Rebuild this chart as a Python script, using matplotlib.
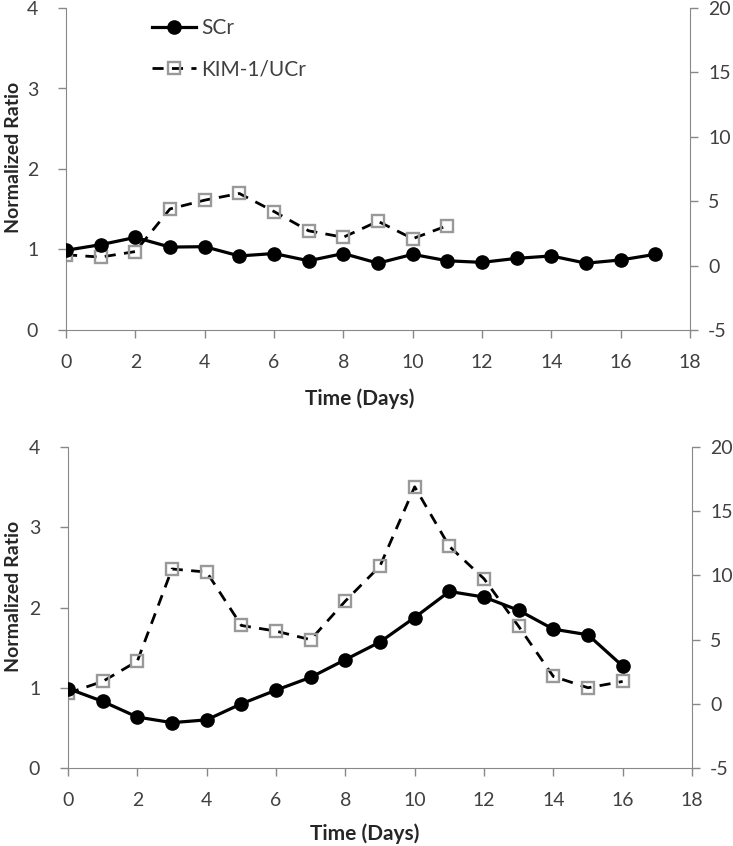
import numpy as np
import matplotlib.pyplot as plt

plt.rcParams['font.family'] = ['Lato', 'DejaVu Sans']
plt.rcParams['axes.unicode_minus'] = False

# top panel
days_top = np.arange(0, 18)
scr_top = [0.99, 1.06, 1.15, 1.03, 1.035, 0.92, 0.95, 0.86, 0.95,
           0.83, 0.94, 0.86, 0.84, 0.89, 0.92, 0.83, 0.87, 0.94]
kim_days_top = np.arange(0, 12)
kim_top = [0.84, 0.66, 1.09, 4.4, 5.08, 5.6, 4.2, 2.7, 2.2, 3.44, 2.09, 3.1]

# bottom panel
days_bot = np.arange(0, 17)
scr_bot = [0.99, 0.83, 0.635, 0.565, 0.60, 0.80, 0.97, 1.13, 1.35,
           1.57, 1.875, 2.20, 2.13, 1.965, 1.73, 1.66, 1.27]
kim_bot = [0.83, 1.74, 3.32, 10.5, 10.26, 6.1, 5.66, 4.99, 8.0,
           10.73, 16.9, 12.26, 9.74, 6.03, 2.13, 1.25, 1.74]

spine_col = '#888888'
text_col = '#404040'

fig = plt.figure(figsize=(7.33, 8.46), dpi=100)
W, H = 733, 846


def panel(rect, d1, s, d2, k, xlab_pos, ylab_pos, legend=False):
    l, r, t, b = rect
    ax = fig.add_axes([l / W, 1 - b / H, (r - l) / W, (b - t) / H])
    ax2 = ax.twinx()
    ax.plot(d1, s, '-o', color='black', lw=2.3, ms=9.5, label='SCr', zorder=3)
    ax2.plot(d2, k, '--s', color='black', lw=2, ms=8, mfc='none',
             mec='#999999', mew=1.7, dashes=(4, 3), label='KIM-1/UCr')
    ax.set_zorder(2)
    ax.patch.set_visible(False)
    ax.set_xlim(0, 18)
    ax.set_ylim(0, 4)
    ax2.set_ylim(-5, 20)
    ax.set_xticks(range(0, 19, 2))
    ax.set_yticks(range(0, 5))
    ax2.set_yticks(range(-5, 21, 5))
    for a in (ax, ax2):
        for sp in a.spines.values():
            sp.set_color(spine_col)
        a.spines['top'].set_visible(False)
        a.tick_params(colors=spine_col, labelcolor=text_col, labelsize=14,
                      length=6, width=1, pad=7)
    ax.spines['right'].set_visible(False)
    ax2.spines['left'].set_visible(False)
    ax2.spines['bottom'].set_visible(False)
    ax.tick_params(axis='y', pad=14)
    ax.tick_params(axis='x', pad=11)
    ax.set_xlabel('Time (Days)', fontsize=15, fontweight='bold', color='#262626')
    ax.set_ylabel('Normalized Ratio', fontsize=14, fontweight='bold', color='#262626')
    ax.xaxis.set_label_coords(*xlab_pos)
    ax.yaxis.set_label_coords(*ylab_pos)
    if legend:
        h1, l1 = ax.get_legend_handles_labels()
        h2, l2 = ax2.get_legend_handles_labels()
        ax.legend(h1 + h2, l1 + l2, loc='upper left', bbox_to_anchor=(0.138, 0.968),
                  frameon=False, fontsize=15, handlelength=2.1, labelspacing=1.0,
                  labelcolor=text_col, handletextpad=0.25, borderpad=0,
                  borderaxespad=0)
    return ax


ax_t = panel((66, 690, 8, 330), days_top, scr_top, kim_days_top, kim_top,
             (0.471, -0.18), (-0.07, 0.537), legend=True)
ax_b = panel((68, 692, 447, 768), days_bot, scr_bot, days_bot, kim_bot,
             (0.476, -0.173), (-0.074, 0.533))

fig.savefig('out.png', dpi=100)
